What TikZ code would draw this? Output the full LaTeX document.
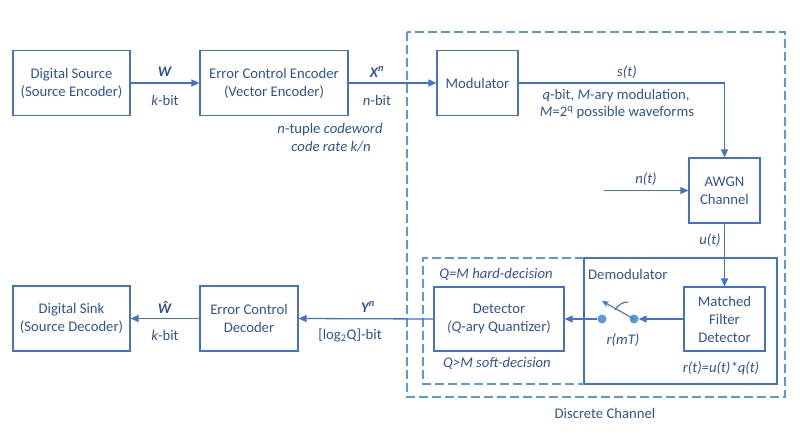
\documentclass[tikz,border=0pt]{standalone}
\usepackage{fontspec}
\setmainfont{Carlito}
\usetikzlibrary{arrows.meta}
\definecolor{boxc}{HTML}{4472C4}
\definecolor{dashc}{HTML}{5B9BD5}
\definecolor{txtc}{HTML}{2F5496}
\begin{document}
\begin{tikzpicture}[x=1pt,y=-1pt,
  font=\fontsize{14.7}{18}\selectfont,
  blk/.style={draw=boxc, line width=1.2pt, text=txtc, align=center, inner sep=0pt},
  lbl/.style={text=txtc, align=center, inner sep=0pt},
  conn/.style={draw=boxc, line width=1.3pt},
  arr/.style={conn, -{Triangle[length=8pt,width=7pt]}},
  dashbox/.style={draw=dashc, line width=1.2pt, dash pattern=on 9pt off 4pt},
  sdot/.style={circle, fill=dashc, inner sep=0pt, minimum size=9pt}
]
\useasboundingbox (0,0) rectangle (800,435);

% outer dashed box (discrete channel)
\draw[dashbox] (407,32) rectangle (785,397);
\node[lbl] (dc) at (605,413) {Discrete Channel};

% top row
\node[blk, minimum width=117pt, minimum height=65pt] (src) at (71.5,83) {Digital Source\\(Source Encoder)};
\node[blk, minimum width=148pt, minimum height=65pt] (enc) at (274,83) {Error Control Encoder\\(Vector Encoder)};
\node[blk, minimum width=81pt, minimum height=65pt] (mod) at (477.5,83) {Modulator};
\node[blk, minimum width=71pt, minimum height=65pt] (awgn) at (724.5,190.5) {AWGN\\Channel};

\draw[arr] (src.east) -- (enc.west);
\draw[arr] (enc.east) -- (mod.west);
\draw[arr] (mod.east) -| (awgn.north);
\coordinate (nstart) at (604,190.5);
\draw[arr] (nstart) -- (awgn.west);

\node[lbl] (wl) at (165,72) {\textbf{\textit{W}}};
\node[lbl] (kb1) at (165,100) {\textit{k}-bit};
\node[lbl] (xl) at (377,72) {\textbf{\textit{X\textsuperscript{n}}}};
\node[lbl] (nb) at (377,100) {\textit{n}-bit};
\node[lbl] (ntup) at (330,130) {\textit{n}-tuple \textit{codeword}};
\node[lbl] (crate) at (331,147) {\textit{code rate k/n}};
\node[lbl] (st) at (627,72) {\textit{s(t)}};
\node[lbl] (qbit) at (616,96) {\textit{q}-bit, \textit{M}-ary modulation,};
\node[lbl] (mw) at (617,113) {\textit{M}=2\textsuperscript{q} possible waveforms};
\node[lbl] (nt) at (646,179) {\textit{n(t)}};
\node[lbl] (ut) at (710,240) {\textit{u(t)}};

% demodulator area
\node[draw=boxc, line width=1.2pt, minimum width=193pt, minimum height=126pt, inner sep=0pt] (demod) at (680.5,321) {};
\draw[dashbox] (584,258) -- (423,258) -- (423,384) -- (584,384);
\node[lbl, anchor=west] (dml) at (588,274) {Demodulator};

\node[blk, minimum width=81pt, minimum height=64pt] (mfd) at (724.5,319) {Matched\\Filter\\Detector};
\node[blk, minimum width=130pt, minimum height=64pt] (det) at (499,319) {Detector\\\textit{(Q}-ary Quantizer)};

\draw[arr] (awgn.south) -- (mfd.north);

\node[sdot] (dr) at (634,319) {};
\node[sdot] (dl) at (602,319) {};
\draw[arr] (mfd.west) -- (dr.east);
\draw[arr] (dl.west) -- (det.east);
\coordinate (lev) at (602,301);
\draw[conn, line width=1.1pt, -{Stealth[length=7pt,width=6pt]}] (dr.center) -- (lev);
\draw[conn, line width=1.1pt] (615,310) .. controls (619,304) and (623,302) .. (628,302);

\node[lbl] (rmt) at (623,340) {\textit{r(mT)}};
\node[lbl] (rt) at (721,368) {\textit{r(t)=u(t)*q(t)}};
\node[lbl] (hard) at (496,274) {\textit{Q=M hard-decision}};
\node[lbl] (soft) at (497,363) {\textit{Q>M soft-decision}};

% bottom row
\node[blk, minimum width=98pt, minimum height=65pt] (ecd) at (249,318.5) {Error Control\\Decoder};
\node[blk, minimum width=117pt, minimum height=65pt] (sink) at (71.5,318.5) {Digital Sink\\(Source Decoder)};

\draw[arr] (det.west) -- (ecd.east);
\draw[arr] (ecd.west) -- (sink.east);

\node[lbl] (what) at (165,307) {\textbf{\textit{Ŵ}}};
\node[lbl] (kb2) at (165,335) {\textit{k}-bit};
\node[lbl] (yl) at (368,307) {\textbf{\textit{Y\textsuperscript{n}}}};
\node[lbl] (logb) at (350,335) {[log\textsubscript{2}Q]-bit};
\end{tikzpicture}
\end{document}
